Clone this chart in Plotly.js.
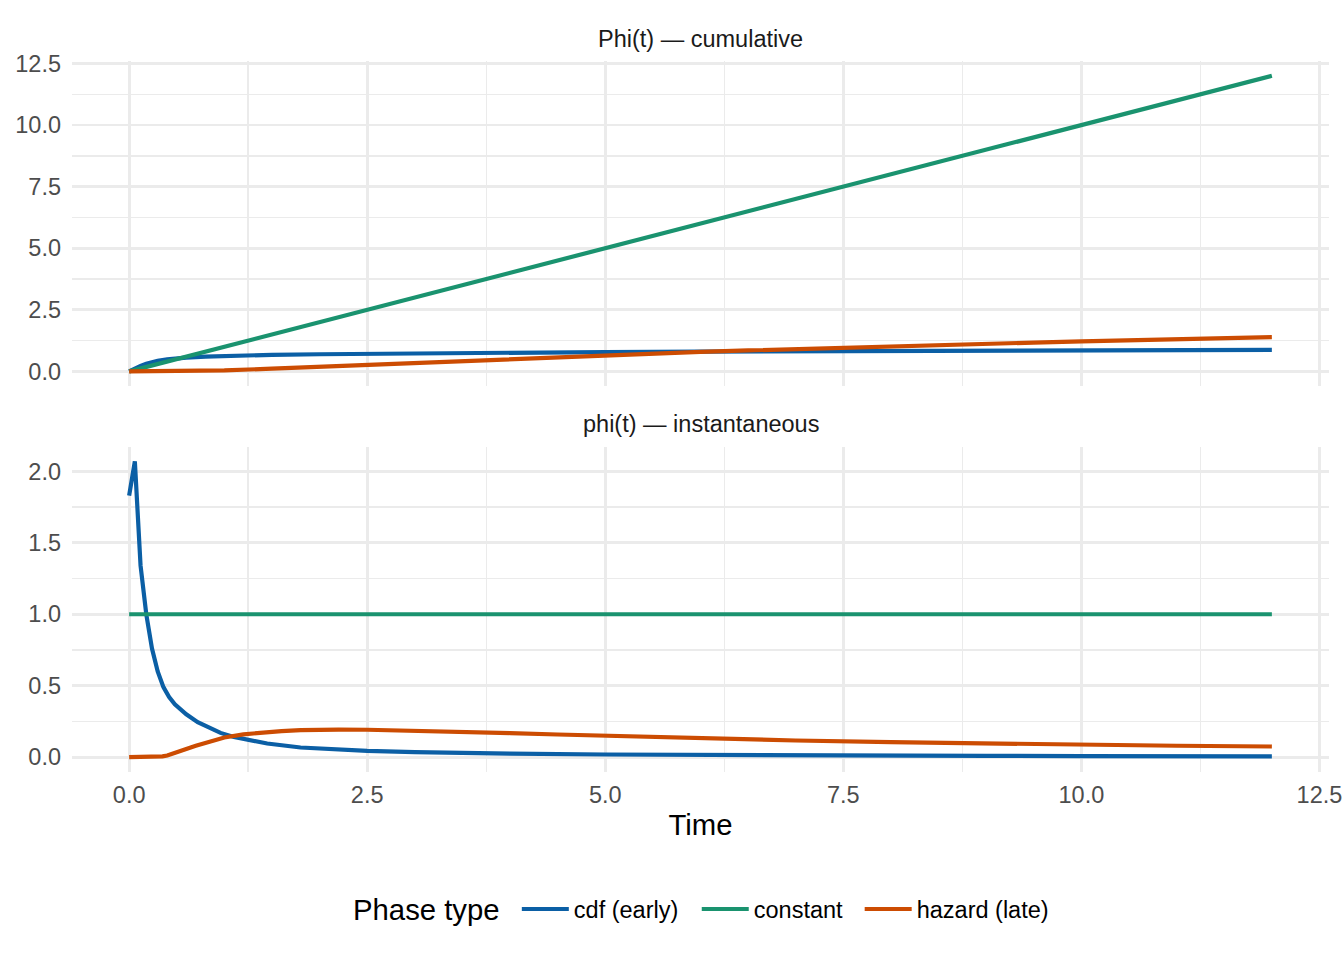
<!DOCTYPE html>
<html>
<head>
<meta charset="utf-8">
<script src="https://cdn.plot.ly/plotly-3.0.1.min.js"></script>
<style>html,body{margin:0;padding:0;background:#fff;}#chart{width:1344px;height:960px;}</style>
</head>
<body>
<div id="chart"></div>
<script>
// ---- data ----
const seriesNames = ['cdf (early)', 'constant', 'hazard (late)'];
const seriesColors = ['#0B5FA5', '#1A936F', '#CC4C02'];
const panelTitles = ['Phi(t) \u2014 cumulative', 'phi(t) \u2014 instantaneous'];
const legendTitle = 'Phase type';
const xTitle = 'Time';
const xTickVals = [0, 2.5, 5, 7.5, 10, 12.5];

// cumulative Phi(t)
const tCumCdf = [0, 0.06, 0.12, 0.18, 0.24, 0.3, 0.4, 0.5, 0.6, 0.8, 1.0, 1.25, 1.5, 2, 2.5, 3, 4, 5, 6, 7, 8, 9, 10, 11, 12];
const cumCdf  = [0, 0.12, 0.22, 0.31, 0.38, 0.43, 0.49, 0.53, 0.56, 0.60, 0.63, 0.655, 0.67, 0.695, 0.715, 0.73, 0.76, 0.785, 0.805, 0.82, 0.835, 0.845, 0.855, 0.865, 0.87];
const tCumConst = [0, 12];
const cumConst  = [0, 12];
const tCumHaz = [0, 0.5, 1, 1.5, 2, 2.5, 3, 3.5, 4, 4.5, 5, 5.5, 6, 6.5, 7, 7.5, 8, 8.5, 9, 9.5, 10, 10.5, 11, 11.5, 12];
const cumHaz  = [0, 0.004, 0.04, 0.11, 0.19, 0.27, 0.35, 0.43, 0.50, 0.58, 0.66, 0.72, 0.79, 0.85, 0.91, 0.97, 1.02, 1.07, 1.12, 1.17, 1.22, 1.26, 1.30, 1.35, 1.39];

// instantaneous phi(t)
const tInsCdf = [0, 0.06, 0.12, 0.18, 0.24, 0.3, 0.36, 0.42, 0.48, 0.54, 0.6, 0.72, 0.84, 0.96, 1.1, 1.25, 1.45, 1.8, 2.1, 2.5, 3, 3.5, 4, 5, 6, 7, 8, 9, 10, 11, 12];
const insCdf  = [1.83, 2.07, 1.34, 1.00, 0.76, 0.60, 0.49, 0.42, 0.37, 0.33, 0.30, 0.245, 0.205, 0.17, 0.142, 0.12, 0.096, 0.068, 0.055, 0.044, 0.035, 0.029, 0.025, 0.019, 0.015, 0.012, 0.010, 0.009, 0.008, 0.007, 0.006];
const tInsConst = [0, 12];
const insConst  = [1, 1];
const tInsHaz = [0, 0.2, 0.3, 0.35, 0.4, 0.45, 0.5, 0.6, 0.7, 0.8, 0.9, 1.0, 1.2, 1.4, 1.6, 1.8, 2.0, 2.2, 2.5, 3.0, 3.5, 4.0, 4.5, 5.0, 6, 7, 8, 9, 10, 11, 12];
const insHaz  = [0, 0, 0.002, 0.006, 0.012, 0.022, 0.034, 0.058, 0.08, 0.1, 0.12, 0.138, 0.16, 0.174, 0.183, 0.189, 0.192, 0.193, 0.192, 0.186, 0.178, 0.169, 0.159, 0.15, 0.132, 0.117, 0.105, 0.095, 0.087, 0.08, 0.075];

// ---- build ----
const FONT = '"Liberation Sans", Arial, Helvetica, sans-serif';
const LW = 4.2;
const cumX = [tCumCdf, tCumConst, tCumHaz];
const cumY = [cumCdf, cumConst, cumHaz];
const insX = [tInsCdf, tInsConst, tInsHaz];
const insY = [insCdf, insConst, insHaz];
const legendIds = ['legend', 'legend2', 'legend3'];
const legendTextPx = [578, 758, 921]; // where each legend label starts (px)

const traces = [];
for (let i = 0; i < seriesNames.length; i++) {
  traces.push({
    x: cumX[i], y: cumY[i], xaxis: 'x2', yaxis: 'y2', type: 'scatter', mode: 'lines',
    name: seriesNames[i], legendgroup: seriesNames[i], showlegend: false,
    line: {color: seriesColors[i], width: LW}, hoverinfo: 'skip'
  });
}
for (let i = 0; i < seriesNames.length; i++) {
  traces.push({
    x: insX[i], y: insY[i], xaxis: 'x', yaxis: 'y', type: 'scatter', mode: 'lines',
    name: seriesNames[i], legendgroup: seriesNames[i], showlegend: true, legend: legendIds[i],
    line: {color: seriesColors[i], width: LW}, hoverinfo: 'skip'
  });
}

const grid = '#EBEBEB';
const tickFont = {family: FONT, size: 23.5, color: '#4D4D4D'};
function xAx(extra) {
  return Object.assign({
    range: [-0.6, 12.6], tickmode: 'array', tickvals: xTickVals, tickformat: '.1f',
    showgrid: true, gridcolor: grid, gridwidth: 2.85, zeroline: false, showline: false, ticks: '',
    minor: {dtick: 1.25, tick0: 0, showgrid: true, gridcolor: grid, gridwidth: 1.42},
    tickfont: tickFont, fixedrange: true
  }, extra);
}
function yAx(extra) {
  return Object.assign({
    tickformat: '.1f', showgrid: true, gridcolor: grid, gridwidth: 2.85, zeroline: false,
    showline: false, ticks: '', tickfont: tickFont, ticklabelstandoff: 10, fixedrange: true
  }, extra);
}
const ITEMW = 47;
function legendBox(textPx) {
  const xpx = textPx - 2 - (ITEMW + 7) - 5;
  return {
    orientation: 'h', x: (xpx - 72) / 1257.5, xanchor: 'left', y: -0.193, yanchor: 'middle',
    font: {family: FONT, size: 23.5, color: '#000000'}, itemwidth: ITEMW,
    bgcolor: 'rgba(0,0,0,0)', borderwidth: 0
  };
}

const layout = {
  width: 1344, height: 960,
  margin: {l: 72, r: 14.5, t: 60.5, b: 188.2, pad: 0},
  paper_bgcolor: '#FFFFFF', plot_bgcolor: '#FFFFFF',
  font: {family: FONT, color: '#000000'},
  xaxis: xAx({anchor: 'y', domain: [0, 1], ticklabelstandoff: 6,
    title: {text: xTitle, font: {family: FONT, size: 29.3, color: '#000000'}, standoff: 7}}),
  xaxis2: xAx({anchor: 'y2', domain: [0, 1], matches: 'x', showticklabels: false}),
  yaxis: yAx({anchor: 'x', domain: [0, 0.4578], range: [-0.1035, 2.1735], dtick: 0.5, tick0: 0,
    minor: {dtick: 0.25, tick0: 0, showgrid: true, gridcolor: grid, gridwidth: 1.42}}),
  yaxis2: yAx({anchor: 'x2', domain: [0.5427, 1], range: [-0.6, 12.6], dtick: 2.5, tick0: 0,
    minor: {dtick: 1.25, tick0: 0, showgrid: true, gridcolor: grid, gridwidth: 1.42}}),
  showlegend: true,
  legend: legendBox(legendTextPx[0]),
  legend2: legendBox(legendTextPx[1]),
  legend3: legendBox(legendTextPx[2]),
  annotations: [
    {text: panelTitles[0], xref: 'x2 domain', yref: 'y2 domain', x: 0.5, y: 1, yshift: 22.5,
     xanchor: 'center', yanchor: 'middle', showarrow: false, font: {family: FONT, size: 23.5, color: '#1A1A1A'}},
    {text: panelTitles[1], xref: 'x domain', yref: 'y domain', x: 0.5, y: 1, yshift: 22.2,
     xanchor: 'center', yanchor: 'middle', showarrow: false, font: {family: FONT, size: 23.5, color: '#1A1A1A'}},
    {text: legendTitle, xref: 'paper', yref: 'paper', x: (351 - 72) / 1257.5, y: -0.193,
     xanchor: 'left', yanchor: 'middle', showarrow: false, font: {family: FONT, size: 29.3, color: '#000000'}}
  ]
};

Plotly.newPlot('chart', traces, layout, {displayModeBar: false, staticPlot: true});
</script>
</body>
</html>
